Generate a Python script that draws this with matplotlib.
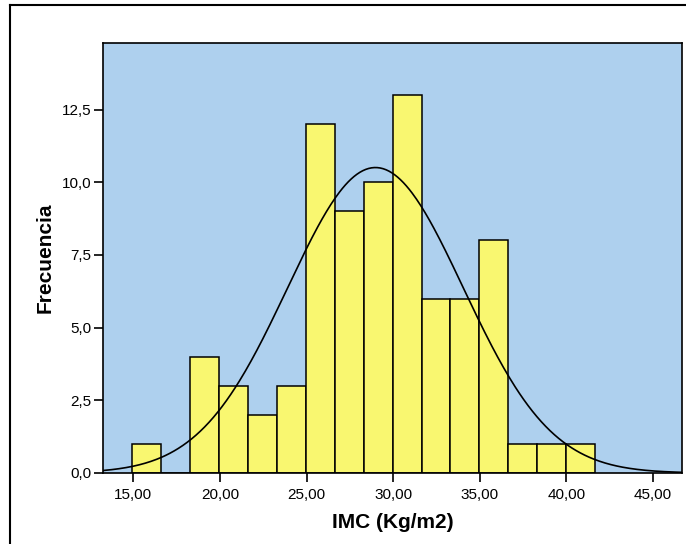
import matplotlib
matplotlib.use('Agg')
import matplotlib.pyplot as plt
import numpy as np

plt.rcParams['font.family'] = ['Liberation Sans', 'DejaVu Sans']

# Histograma de IMC
bin_start = 14.95
bin_width = 1.669
counts = [1, 0, 4, 3, 2, 3, 12, 9, 10, 13, 6, 6, 8, 1, 1, 1]
mean_imc = 28.98
sd_imc = 5.07
n_total = sum(counts)

x_ticks = [15, 20, 25, 30, 35, 40, 45]
y_ticks = [0, 2.5, 5, 7.5, 10, 12.5]


def fmt(v, dec):
    return f'{v:.{dec}f}'.replace('.', ',')


fig = plt.figure(figsize=(6.86, 5.44), dpi=100)
ax = fig.add_axes([103 / 686, 71 / 544, 579 / 686, 430 / 544])
ax.set_facecolor('#AED0EE')

edges = bin_start + bin_width * np.arange(len(counts) + 1)
ax.bar(edges[:-1], counts, width=bin_width, align='edge',
       color='#F9F770', edgecolor='black', linewidth=1.1, zorder=2)

xlim = (13.25, 46.68)
xs = np.linspace(xlim[0], xlim[1], 400)
pdf = np.exp(-0.5 * ((xs - mean_imc) / sd_imc) ** 2) / (sd_imc * np.sqrt(2 * np.pi))
ax.plot(xs, n_total * bin_width * pdf, color='black', linewidth=1.2, zorder=3)

ax.set_xlim(*xlim)
ax.set_ylim(0, 14.79)
ax.set_xticks(x_ticks)
ax.set_xticklabels([fmt(v, 2) for v in x_ticks])
ax.set_yticks(y_ticks)
ax.set_yticklabels([fmt(v, 1) for v in y_ticks])
ax.tick_params(direction='out', length=6.5, width=1.2, labelsize=11,
               colors='black')
ax.tick_params(axis='x', pad=4)
ax.tick_params(axis='y', pad=2)
for s in ax.spines.values():
    s.set_linewidth(1.2)

ax.set_xlabel('IMC (Kg/m2)', fontsize=15, fontweight='bold', labelpad=8)
ax.set_ylabel('Frecuencia', fontsize=15, fontweight='bold', labelpad=5)

# marco exterior
fig.add_artist(plt.Line2D([10 / 686, 1], [1 - 5 / 544, 1 - 5 / 544],
                          color='black', linewidth=1.5, transform=fig.transFigure))
fig.add_artist(plt.Line2D([10 / 686, 10 / 686], [0, 1 - 5 / 544],
                          color='black', linewidth=1.5, transform=fig.transFigure))

fig.savefig('out.png', dpi=100)
